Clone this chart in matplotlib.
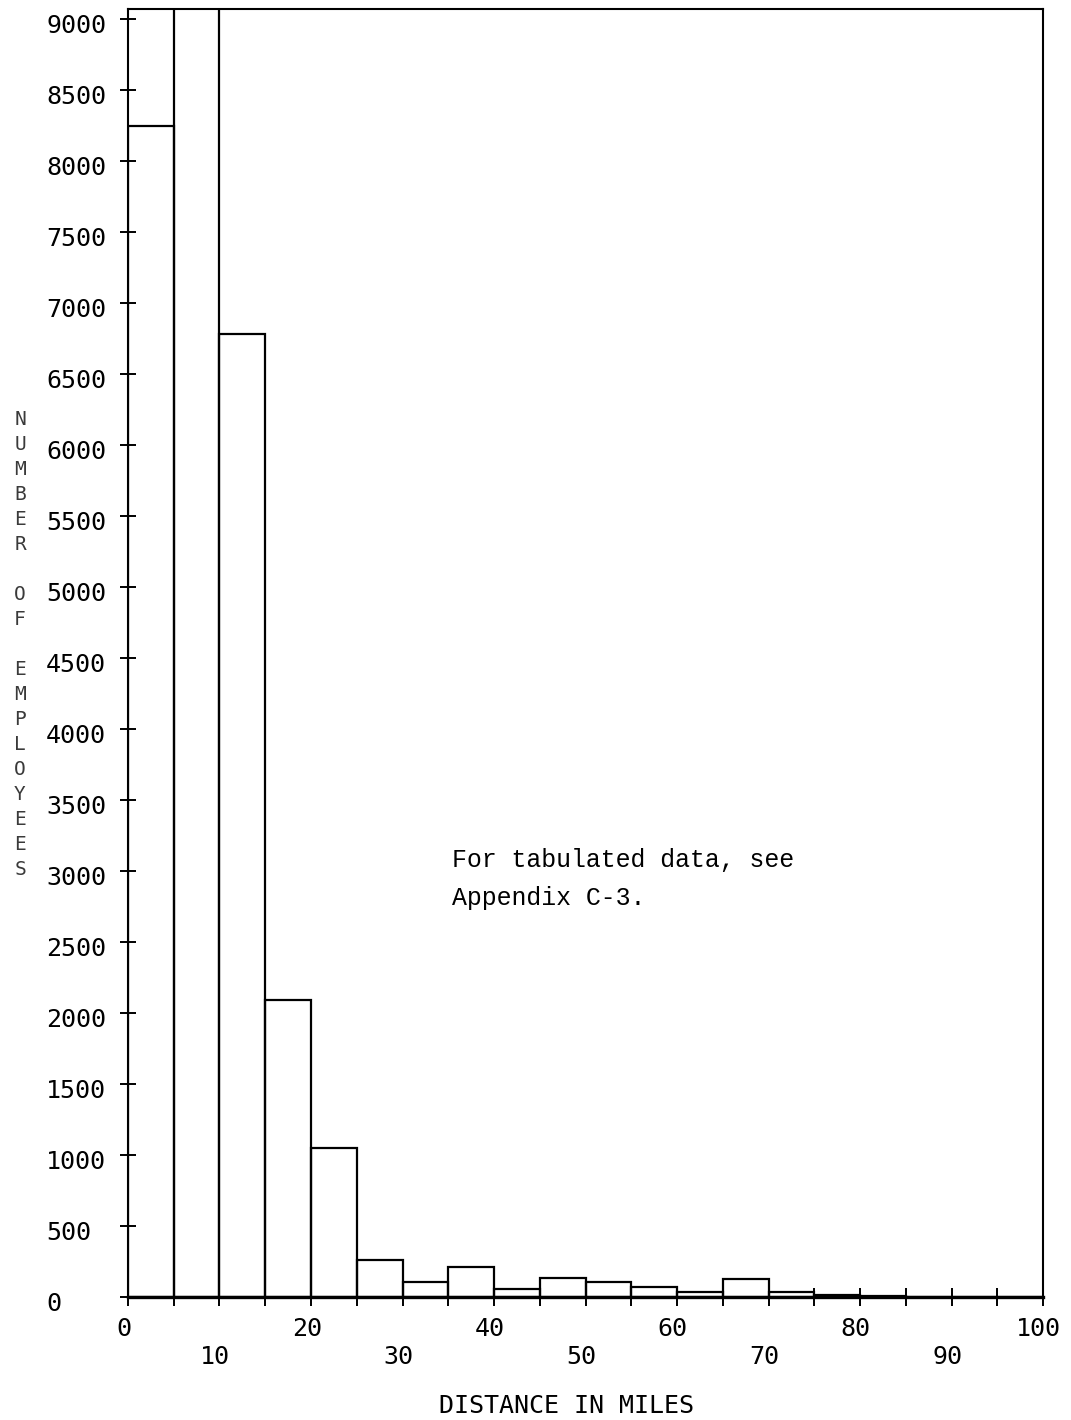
import numpy as np
import matplotlib
matplotlib.use('Agg')
import matplotlib.pyplot as plt
import matplotlib.transforms as mtransforms

# employees per 5-mile commuting distance bin (0-100 miles)
bin_edges = np.arange(0, 105, 5)
employees = [8250, 10400, 6780, 2090, 1050, 260, 105, 210, 56, 134,
             110, 70, 35, 128, 40, 17, 6, 3, 2, 1]

y_ticks = np.arange(0, 9001, 500)
x_major = [0, 20, 40, 60, 80, 100]
x_minor = [5, 10, 15, 25, 30, 35, 45, 50, 55, 65, 70, 75, 85, 90, 95]
x_minor_labels = ['' if t % 10 else str(t) for t in x_minor]

plotter_font = 'DejaVu Sans Mono'

fig = plt.figure(figsize=(10.71, 14.2), dpi=100)
fig.patch.set_facecolor('white')
ax = fig.add_axes([0.1195, 0.0864, 0.8544, 0.9073])

ax.bar(bin_edges[:-1], employees, width=5, align='edge', fill=False,
       edgecolor='black', linewidth=1.6)

ax.set_xlim(0, 100)
ax.set_ylim(0, 9072)

for side in ['left', 'top', 'right']:
    ax.spines[side].set_linewidth(1.5)
ax.spines['bottom'].set_linewidth(2.4)

# y axis: labels left aligned well away from the spine
ax.set_yticks(y_ticks)
ax.set_yticklabels([str(v) for v in y_ticks])
ax.tick_params(axis='y', direction='inout', length=11, width=1.4,
               pad=53.5, labelsize=18)

# x axis: labels on two staggered rows
ax.set_xticks(x_major)
ax.set_xticklabels([str(v) for v in x_major])
ax.set_xticks(x_minor, minor=True)
ax.set_xticklabels(x_minor_labels, minor=True)
ax.tick_params(axis='x', which='both', direction='inout', length=13,
               width=1.4, labelsize=18)
ax.tick_params(axis='x', which='major', pad=7.5)
ax.tick_params(axis='x', which='minor', pad=28)

ydown = mtransforms.ScaledTranslation(0, -3 / 72, fig.dpi_scale_trans)
xleft = mtransforms.ScaledTranslation(-3 / 72, 0, fig.dpi_scale_trans)
for lab in ax.get_yticklabels():
    lab.set_fontfamily(plotter_font)
    lab.set_horizontalalignment('left')
    lab.set_transform(lab.get_transform() + ydown)
for lab in ax.get_xticklabels() + ax.get_xticklabels(minor=True):
    lab.set_fontfamily(plotter_font)
    lab.set_transform(lab.get_transform() + xleft)

fig.text(0.5294, 1 - 1406 / 1420, 'DISTANCE IN MILES', family=plotter_font,
         fontsize=18, ha='center', va='center')

# stacked upright letters for the vertical axis title
fig.text(20 / 1071, 1 - 645 / 1420, '\n'.join('NUMBER OF EMPLOYEES'),
         family=plotter_font, fontsize=14, linespacing=1.4,
         ha='center', va='center', color='#3a3a3a')

ax.text(0.354, 0.3339, 'For tabulated data, see', transform=ax.transAxes,
        family='Liberation Mono', fontsize=17.9, va='baseline', ha='left')
ax.text(0.354, 0.3043, 'Appendix C-3.', transform=ax.transAxes,
        family='Liberation Mono', fontsize=17.9, va='baseline', ha='left')

fig.savefig('out.png', dpi=100)
